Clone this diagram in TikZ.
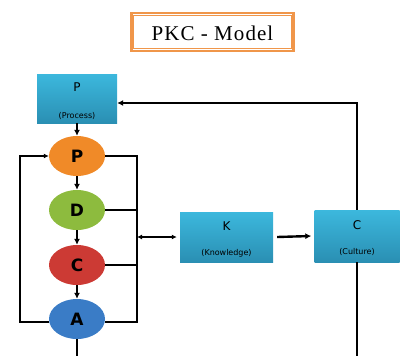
\documentclass[tikz,border=0pt]{standalone}
\usepackage{fontspec}
\setmainfont{Liberation Serif}
\setsansfont{DejaVu Sans}
\usetikzlibrary{shapes.geometric,arrows.meta}
\definecolor{boxtop}{HTML}{3CB8DD}
\definecolor{boxbot}{HTML}{2A8FB3}
\definecolor{ttlor}{HTML}{F0964A}
\definecolor{elor}{HTML}{F08A28}
\definecolor{elgr}{HTML}{8DBB3E}
\definecolor{elrd}{HTML}{CC3A34}
\definecolor{elbl}{HTML}{3A7CC6}
\begin{document}
\begin{tikzpicture}[x=1pt,y=-1pt,
  cbox/.style={rectangle, top color=boxtop, bottom color=boxbot, draw=none, inner sep=0pt},
  big/.style={font=\sffamily\fontsize{12}{14}\selectfont, inner sep=0pt},
  small/.style={font=\sffamily\fontsize{8}{9}\selectfont, inner sep=0pt},
  phase/.style={ellipse, minimum width=56pt, minimum height=40pt, inner sep=0pt, draw=none, font=\sffamily\bfseries\fontsize{17}{18}\selectfont},
  conn/.style={line width=2.4pt, -{Latex[length=6pt,width=6pt]}},
  plain/.style={line width=2.4pt},
  thin/.style={line width=1.8pt}]
\useasboundingbox (0,0) rectangle (406,356);
% title
\node[draw=ttlor, line width=2.5pt, fill=white, minimum width=162pt, minimum height=38pt, inner sep=0pt] (title) at (212.5,32) {};
\draw[ttlor, line width=0.8pt] ([shift={(3.5,3.5)}]title.north west) rectangle ([shift={(-3.5,-3.5)}]title.south east);
\node[font=\fontsize{21}{24}\selectfont\addfontfeature{LetterSpace=5}] (ttext) at (212.5,33) {PKC - Model};
% boxes
\node[cbox, minimum width=80pt, minimum height=49pt] (pbox) at (77,98.5) {};
\node[big] (pl1) at (77,87) {P};
\node[small] (pl2) at (77,116) {(Process)};
\node[cbox, minimum width=93pt, minimum height=50pt] (kbox) at (226.5,237) {};
\node[big] (kl1) at (226.5,226) {K};
\node[small] (kl2) at (226.5,253) {(Knowledge)};
\node[cbox, minimum width=85pt, minimum height=52pt] (cbox) at (357,236) {};
\node[big] (cl1) at (357,225) {C};
\node[small] (cl2) at (357,252) {(Culture)};
% ellipses
\node[phase, fill=elor] (ep) at (77,156) {P};
\node[phase, fill=elgr] (ed) at (77,210) {D};
\node[phase, fill=elrd] (ec) at (77,265) {C};
\node[phase, fill=elbl] (ea) at (77,319) {A};
% vertical arrows
\draw[conn] (pbox.south) -- (ep.north);
\draw[conn] (ep.south) -- (ed.north);
\draw[conn] (ed.south) -- (ec.north);
\draw[conn] (ec.south) -- (ea.north);
\coordinate (abot) at (77,356);
\draw[plain] (ea.south) -- (abot);
% left loop
\coordinate (ll) at (20,0);
\draw[thin, -{Latex[length=5pt,width=5pt]}] ([yshift=-3]ea.west) -| (ll |- ep.west) -- (ep.west);
% right bracket
\coordinate (rb) at (137,0);
\draw[thin] (ep.east) -- (rb |- ep.east) -- (rb |- ea.east);
\draw[thin] (ed.east) -- (rb |- ed.east);
\draw[thin] (ec.east) -- (rb |- ec.east);
\draw[thin] ([yshift=-3]ea.east) -- ([yshift=-3]rb |- ea.east) -- (rb |- ea.east);
% double arrow to K
\draw[thin, {Latex[length=5pt,width=5pt]}-{Latex[length=5pt,width=5pt]}] (rb |- kbox.west) -- ([xshift=-3]kbox.west);
% K to C
\draw[conn] ([xshift=4]kbox.east) -- ([xshift=-3]cbox.west);
% C back to P
\coordinate (ctop) at (357,103);
\draw[conn] (cbox.north) -- (ctop) -- ([yshift=-4.5]pbox.east);
\coordinate (cend) at (357,356);
\draw[plain] (cbox.south) -- (cend);
\end{tikzpicture}
\end{document}
